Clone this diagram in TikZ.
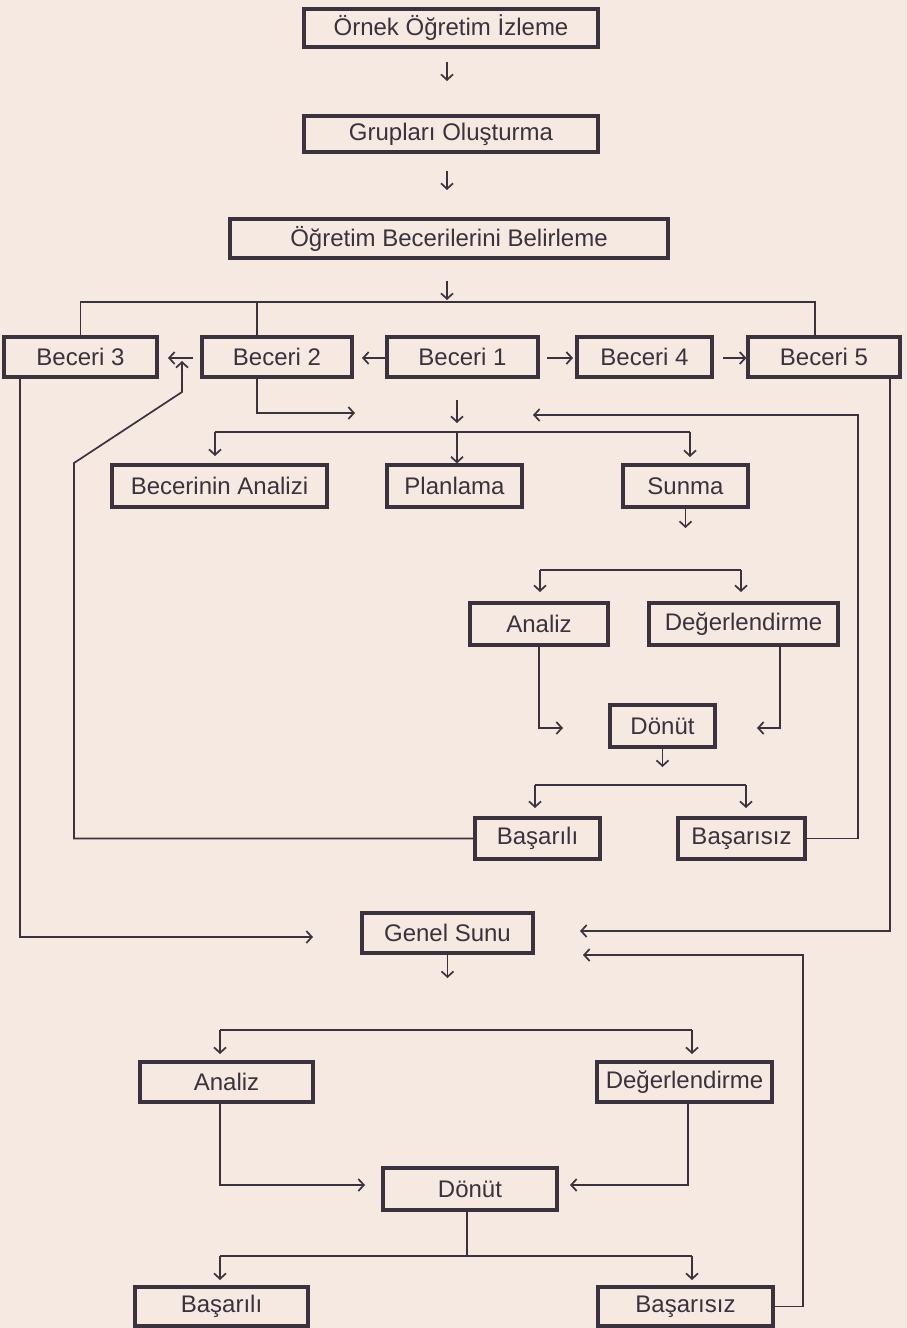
\documentclass[tikz,border=0pt]{standalone}
\usepackage{fontspec}
\setmainfont{Liberation Sans}
\usetikzlibrary{arrows.meta,calc}
\definecolor{paper}{RGB}{246,233,226}
\definecolor{ink}{RGB}{58,50,60}
\begin{document}
\begin{tikzpicture}[x=1pt,y=-1pt,
  box/.style={draw=ink, line width=3.2pt, inner sep=0pt, text=ink,
    font=\fontsize{24}{27}\selectfont},
  conn/.style={draw=ink, line width=1.7pt},
  arr/.style={conn, -{Straight Barb[length=5.5pt,width=12pt,line width=1.7pt]}}]
\useasboundingbox (0,0) rectangle (907,1328);
\fill[paper] (0,0) rectangle (907,1328);

% nodes
\node[box, minimum width=294, minimum height=38] (n1) at (451,28) {Örnek Öğretim İzleme};
\node[box, minimum width=294, minimum height=36] (n2) at (451,134) {Grupları Oluşturma};
\node[box, minimum width=438, minimum height=39] (n3) at (449,238.5) {Öğretim Becerilerini Belirleme};
\node[box, minimum width=153, minimum height=40] (b3) at (80.5,357) {Beceri 3};
\node[box, minimum width=150, minimum height=40] (b2) at (277,357) {Beceri 2};
\node[box, minimum width=151, minimum height=40] (b1) at (462.5,357) {Beceri 1};
\node[box, minimum width=135, minimum height=40] (b4) at (644.5,357) {Beceri 4};
\node[box, minimum width=152, minimum height=40] (b5) at (824,357) {Beceri 5};
\node[box, minimum width=215, minimum height=42] (ba) at (219.5,486) {Becerinin Analizi};
\node[box, minimum width=135, minimum height=42] (pl) at (454.5,486) {Planlama};
\node[box, minimum width=125, minimum height=42] (su) at (685.5,486) {Sunma};
\node[box, minimum width=138, minimum height=42] (a1) at (539,624) {Analiz};
\node[box, minimum width=189, minimum height=42] (d1) at (743.5,624) {Değerlendirme};
\node[box, minimum width=105, minimum height=42] (do1) at (662.5,726) {Dönüt};
\node[box, minimum width=125, minimum height=41] (bs1) at (537.5,838.5) {Başarılı};
\node[box, minimum width=127, minimum height=41] (bf1) at (741.5,838.5) {Başarısız};
\node[box, minimum width=171, minimum height=40] (gs) at (447.5,933) {Genel Sunu};
\node[box, minimum width=173, minimum height=40] (a2) at (226.5,1082) {Analiz};
\node[box, minimum width=175, minimum height=40] (d2) at (684.5,1082) {Değerlendirme};
\node[box, minimum width=174, minimum height=42] (do2) at (470,1189) {Dönüt};
\node[box, minimum width=173, minimum height=39] (bs2) at (221.5,1306.5) {Başarılı};
\node[box, minimum width=175, minimum height=39] (bf2) at (685.5,1306.5) {Başarısız};

% top arrows
\coordinate (t1a) at (447,62);  \coordinate (t1b) at (447,81);
\coordinate (t2a) at (447,171); \coordinate (t2b) at (447,190);
\coordinate (t3a) at (447,281); \coordinate (t3b) at (447,300);
\draw[arr] (t1a) -- (t1b);
\draw[arr] (t2a) -- (t2b);
\draw[arr] (t3a) -- (t3b);

% distribution line to Beceri 3, 2, 5
\coordinate (L1) at (80.5,302);
\coordinate (L2) at (257,302);
\coordinate (L5) at (815,302);
\draw[conn] (b3.north) -- (L1) -- (L5) -- (L5 |- b5.north);
\draw[conn] (L2) -- (L2 |- b2.north);

% arrows within Beceri row
\coordinate (r1) at (362,358);
\draw[arr] (b1.west |- r1) -- (r1);
\coordinate (r2a) at (193,358); \coordinate (r2b) at (168,358);
\draw[arr] (r2a) -- (r2b);
\coordinate (r3a) at (547,358); \coordinate (r3b) at (573,358);
\draw[arr] (r3a) -- (r3b);
\coordinate (r4a) at (723,358);
\draw[arr] (r4a) -- (r4a -| b5.west);

% Beceri 3 down to Genel Sunu
\coordinate (g1) at (313,937);
\draw[arr] (20,0 |- b3.south) -- (20,937) -- (g1);

% Beceri 2 down and right
\coordinate (c2) at (355,413);
\draw[arr] (257,0 |- b2.south) -- (257,413) -- (c2);

% Beceri 1 arrow
\coordinate (k1a) at (457,400); \coordinate (k1b) at (457,423);
\draw[arr] (k1a) -- (k1b);

% distribution line to Becerinin Analizi, Planlama, Sunma
\coordinate (m1) at (215,432); \coordinate (m2) at (457,432); \coordinate (m3) at (690,432);
\draw[conn] (m1) -- (m3);
\draw[arr] (m1) -- (215,456);
\draw[arr] (m2) -- (m2 |- pl.north);
\draw[arr] (m3) -- (690,457);

% Basarisiz (mid) back to Beceri
\coordinate (f1) at (858,415); \coordinate (f1t) at (533,415);
\draw[arr] (bf1.east) -| (f1) -- (f1t);

% Basarili (mid) back to Beceri 2
\coordinate (s1) at (74,463); \coordinate (s2) at (182,392); \coordinate (s3) at (182,361);
\draw[arr] (bs1.west) -| (s1) -- (s2) -- (s3);

% Beceri 5 down to Genel Sunu
\coordinate (g2) at (580,931);
\draw[arr] (890,0 |- b5.south) -- (890,931) -- (g2);

% Sunma -> Analiz / Degerlendirme
\draw[arr] (su.south) -- (685.5,528);
\coordinate (p1) at (540,570); \coordinate (p2) at (741,570);
\draw[conn] (p1) -- (p2);
\draw[arr] (p1) -- (540,592);
\draw[arr] (p2) -- (741,592);

% Analiz, Degerlendirme -> Donut
\draw[arr] (a1.south) |- (563,728);
\draw[arr] (780,0 |- d1.south) -- (780,728) -- (757,728);

% Donut -> Basarili / Basarisiz
\draw[arr] (do1.south) -- (662.5,767);
\coordinate (q1) at (535,785); \coordinate (q2) at (746,785);
\draw[conn] (q1) -- (q2);
\draw[arr] (q1) -- (535,808);
\draw[arr] (q2) -- (746,808);

% Genel Sunu -> Analiz / Degerlendirme
\draw[arr] (gs.south) -- (447.5,978);
\coordinate (u1) at (220,1030); \coordinate (u2) at (692,1030);
\draw[conn] (u1) -- (u2);
\draw[arr] (u1) -- (220,1054);
\draw[arr] (u2) -- (692,1054);

% Analiz, Degerlendirme -> Donut
\draw[arr] (220,0 |- a2.south) -- (220,1185) -- (365,1185);
\draw[arr] (688,0 |- d2.south) -- (688,1185) -- (570,1185);

% Donut -> Basarili / Basarisiz
\coordinate (w1) at (220,1256); \coordinate (w2) at (692,1256);
\draw[conn] (467,0 |- do2.south) -- (467,1256);
\draw[conn] (w1) -- (w2);
\draw[arr] (w1) -- (220,1280);
\draw[arr] (w2) -- (692,1280);

% Basarisiz (bottom) back to Genel Sunu
\coordinate (h1) at (803,955); \coordinate (h1t) at (583,955);
\draw[arr] (bf2.east) -| (h1) -- (h1t);
\end{tikzpicture}
\end{document}
